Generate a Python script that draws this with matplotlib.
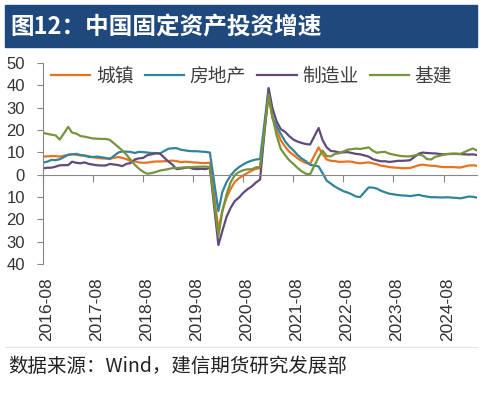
import pandas as pd
import matplotlib
matplotlib.use('Agg')
import matplotlib.pyplot as plt
from matplotlib.patches import Rectangle
from matplotlib.lines import Line2D
from matplotlib.transforms import ScaledTranslation

plt.rcParams['font.family'] = ['Noto Sans CJK SC', 'DejaVu Sans']

# monthly cumulative YoY (%), no January figures
months = pd.date_range('2016-08-01', '2025-04-01', freq='MS')
months = months[months.month != 1]

urban = [8.1, 8.2, 8.3, 8.3, 8.1,
         8.9, 9.2, 8.9, 8.6, 8.6, 8.3, 7.8, 7.5, 7.3, 7.2, 7.2,
         7.9, 7.5, 7.0, 6.1, 6.0, 5.5, 5.3, 5.4, 5.7, 5.9, 5.9,
         6.1, 6.3, 6.1, 5.6, 5.8, 5.7, 5.5, 5.4, 5.2, 5.2, 5.4,
         -24.5, -16.1, -10.3, -6.3, -3.1, -1.6, -0.3, 0.8, 1.8, 2.6, 2.9,
         35.0, 25.6, 19.9, 15.4, 12.6, 10.3, 8.9, 7.3, 6.1, 5.2, 4.9,
         12.2, 9.3, 6.8, 6.2, 6.1, 5.7, 5.8, 5.9, 5.8, 5.3, 5.1,
         5.5, 5.1, 4.7, 4.0, 3.8, 3.4, 3.2, 3.1, 2.9, 2.9, 3.0,
         4.2, 4.5, 4.2, 4.0, 3.9, 3.6, 3.4, 3.4, 3.4, 3.3, 3.2,
         4.1, 4.2, 4.0]

realty = [5.4, 5.8, 6.6, 6.5, 6.9,
          8.9, 9.1, 9.3, 8.8, 8.5, 7.9, 7.9, 8.1, 7.8, 7.5, 7.0,
          9.9, 10.4, 10.3, 10.2, 9.7, 10.2, 10.1, 9.9, 9.7, 9.7, 9.5,
          11.6, 11.8, 11.9, 11.2, 10.9, 10.6, 10.5, 10.5, 10.3, 10.2, 9.9,
          -16.3, -7.7, -3.3, -0.3, 1.9, 3.4, 4.6, 5.6, 6.3, 6.8, 7.0,
          38.3, 25.6, 21.6, 18.3, 15.0, 12.7, 10.9, 8.8, 7.2, 6.0, 4.4,
          3.7, 0.7, -2.7, -4.0, -5.4, -6.4, -7.4, -8.0, -8.8, -9.8, -10.0,
          -5.7, -5.8, -6.2, -7.2, -7.9, -8.5, -8.8, -9.1, -9.3, -9.4, -9.6,
          -9.0, -9.5, -9.8, -10.1, -10.1, -10.2, -10.2, -10.1, -10.3, -10.4, -10.6,
          -9.8, -9.9, -10.3]

manuf = [2.8, 3.1, 3.1, 3.6, 4.2,
         4.3, 5.8, 5.3, 5.1, 5.5, 4.8, 4.5, 4.2, 4.1, 4.1, 4.8,
         4.3, 3.8, 4.8, 5.2, 6.8, 7.3, 7.5, 8.7, 9.1, 9.5, 9.5,
         5.9, 4.6, 2.5, 2.7, 3.0, 3.3, 2.6, 2.5, 2.6, 2.5, 3.1,
         -31.5, -25.2, -18.8, -14.8, -11.7, -10.2, -8.1, -6.5, -5.3, -3.5, -2.2,
         38.8, 29.8, 23.8, 20.4, 19.2, 17.3, 15.7, 14.8, 14.2, 13.7, 13.5,
         20.9, 15.6, 12.2, 10.6, 10.4, 9.9, 10.0, 10.1, 9.7, 9.3, 9.1,
         8.1, 7.0, 6.4, 6.0, 6.0, 5.7, 5.9, 6.2, 6.2, 6.3, 6.5,
         9.4, 9.9, 9.7, 9.6, 9.5, 9.3, 9.1, 9.2, 9.3, 9.3, 9.2,
         9.0, 9.1, 8.8]

infra = [18.7, 18.3, 17.9, 17.6, 15.7,
         21.4, 18.8, 18.4, 17.3, 17.0, 16.6, 16.2, 16.1, 16.0, 16.0, 15.6,
         12.4, 10.9, 9.0, 6.7, 4.5, 2.7, 1.3, 0.4, 0.7, 1.2, 1.8,
         2.5, 2.9, 3.0, 3.1, 3.3, 3.3, 3.4, 3.5, 3.6, 3.6, 3.4,
         -27.5, -16.4, -8.8, -3.3, -0.1, 1.2, 2.0, 2.4, 2.4, 3.3, 3.4,
         36.0, 26.0, 17.5, 11.5, 8.8, 6.5, 4.8, 3.0, 1.5, 0.4, 0.2,
         7.8, 10.8, 8.3, 8.2, 9.3, 9.6, 10.4, 11.2, 11.4, 11.7, 11.5,
         12.2, 10.8, 9.8, 10.1, 10.2, 9.4, 9.0, 8.6, 8.3, 8.2, 8.2,
         9.0, 8.6, 7.0, 6.8, 8.0, 8.4, 9.0, 9.3, 9.4, 9.4, 9.3,
         11.0, 11.7, 10.8]

names = ['城镇', '房地产', '制造业', '基建']
colors = ['#E8731E', '#31849B', '#604A7B', '#77933C']
tick_dates = pd.date_range('2016-08-01', '2024-08-01', freq='12MS')
tick_labels = [d.strftime('%Y-%m') for d in tick_dates]

W, H = 483, 394
fig = plt.figure(figsize=(W / 100, H / 100), dpi=100)

# title bar
fig.patches.append(Rectangle((5 / W, 1 - 47 / H), 472 / W, 42 / H,
                             transform=fig.transFigure, color='#1F497D', zorder=0))
fig.text(10 / W, 1 - 27 / H, '图12：中国固定资产投资增速', color='white',
         fontsize=17, fontweight='bold', va='center', ha='left')

ax = fig.add_axes([43 / W, 1 - 264 / H, (477 - 43) / W, (264 - 63) / H])
lines = []
for vals, name, c in zip([urban, realty, manuf, infra], names, colors):
    ln, = ax.plot(months, vals, color=c, lw=1.6, label=name)
    lines.append(ln)

gray = '#868686'
ax.set_xlim(pd.Timestamp('2016-08-01'), pd.Timestamp('2025-04-01'))
ax.set_ylim(-40, 50)
yt = list(range(-40, 51, 10))
ax.set_yticks(yt)
ax.set_yticklabels([str(abs(v)) for v in yt], fontfamily='Liberation Sans',
                   fontsize=12, color='#333333')
ax.set_xticks(tick_dates)
ax.tick_params(axis='x', labelbottom=False, length=5, color=gray, width=0.8)
ax.tick_params(axis='y', length=4, color=gray, width=0.8, pad=9)
for s in ['top', 'right']:
    ax.spines[s].set_visible(False)
ax.spines['bottom'].set_position(('data', 0))
ax.spines['bottom'].set_color(gray)
ax.spines['left'].set_color(gray)
ax.spines['bottom'].set_linewidth(0.8)
ax.spines['left'].set_linewidth(0.8)

# category labels sit below the plot, not on the zero line
xform = ax.get_xaxis_transform() + ScaledTranslation(0.035, 0, fig.dpi_scale_trans)
for d, lab in zip(tick_dates, tick_labels):
    ax.text(d, -0.065, lab, transform=xform, rotation=90, ha='center', va='top',
            fontfamily='Liberation Sans', fontsize=12.5, color='#333333')

fig.legend(handles=lines, loc='center left', bbox_to_anchor=(51 / W, 1 - 76 / H),
           ncol=4, frameon=False, fontsize=13.5, handlelength=2.1,
           handletextpad=0.3, columnspacing=0.6, borderpad=0, borderaxespad=0,
           labelcolor='#404040')

fig.lines.append(Line2D([5 / W, 477 / W], [1 - 347 / H, 1 - 347 / H],
                        transform=fig.transFigure, color='#E6E6E6', lw=0.8))
fig.text(8 / W, 1 - 366 / H, '数据来源：Wind，建信期货研究发展部', fontsize=14,
         style='italic', color='#222222', va='center', ha='left')

fig.savefig('out.png', dpi=100)
